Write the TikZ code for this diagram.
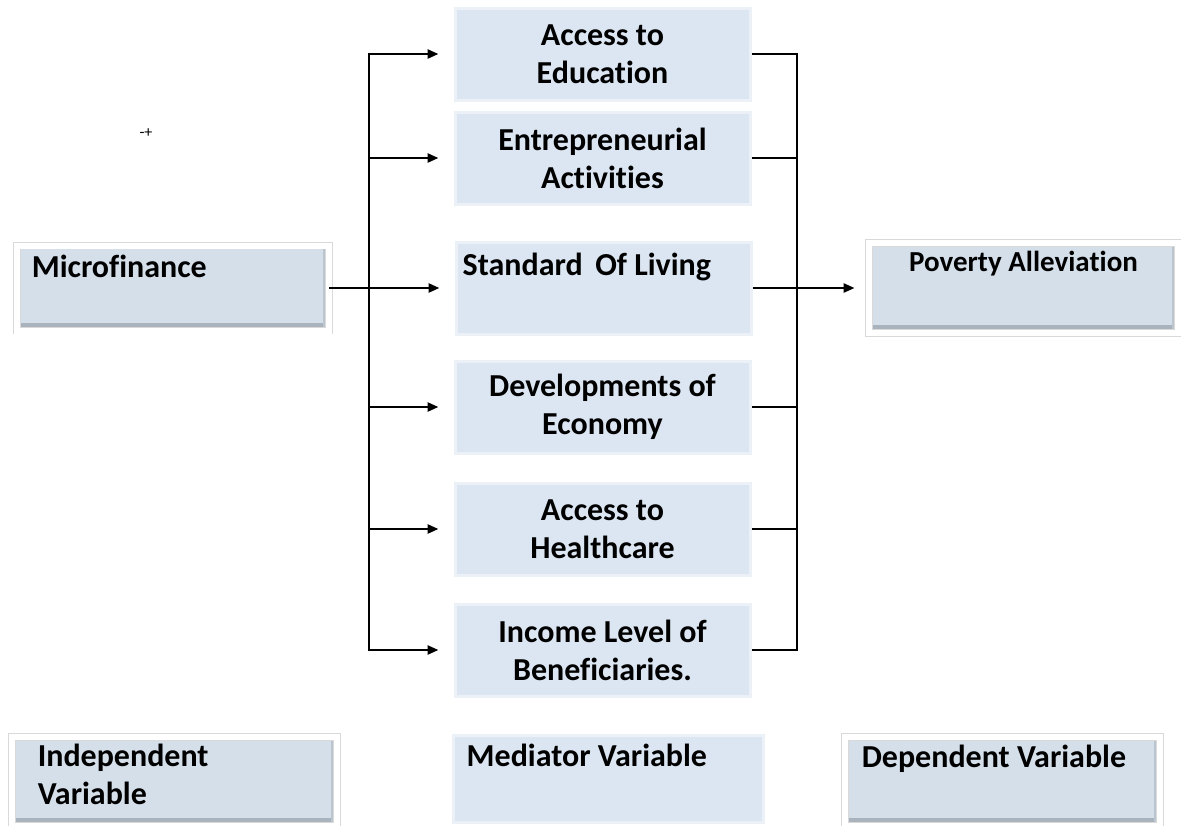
\documentclass[tikz,border=0pt]{standalone}
\usepackage{fontspec}
\setmainfont{Carlito}[Ligatures={NoCommon}]
\usetikzlibrary{arrows.meta,positioning}
\definecolor{medblue}{HTML}{DCE6F2}
\definecolor{sideblue}{HTML}{D5DFEA}
\definecolor{bevelgray}{HTML}{A9B3BD}

\tikzset{
  medbox/.style={rectangle, fill=medblue, draw=white!45!medblue, line width=3pt,
    minimum width=295pt, minimum height=92pt, inner sep=0pt, align=center,
    font=\bfseries\fontsize{32}{38}\selectfont},
  sidebox/.style={rectangle, fill=sideblue, draw=gray!30, line width=0.8pt,
    double=white, double distance=6pt, inner sep=0pt,
    path picture={\fill[bevelgray] ([yshift=8pt]path picture bounding box.south west)
      rectangle (path picture bounding box.south east);
      \fill[bevelgray!60!sideblue] ([xshift=-6pt]path picture bounding box.north east)
      rectangle (path picture bounding box.south east);}},
  boxtext/.style={anchor=base west, inner sep=0pt, align=left,
    font=\bfseries\fontsize{32}{38}\selectfont},
  link/.style={line width=2.5pt},
  arr/.style={link, -{Triangle[length=11pt,width=9pt]}},
}

\begin{document}
\begin{tikzpicture}[x=1pt,y=-1pt]
  \useasboundingbox (0,0) rectangle (1181,825);

  \node[font=\fontsize{16}{18}\selectfont] (plus) at (146,133) {-+};

  % independent variable
  \node[sidebox, minimum width=312pt, minimum height=85pt] (micro) at (173,288) {};
  \node[boxtext] (microtxt) at ([shift={(15,32)}]micro.north west) {Microfinance};

  % mediators
  \node[medbox] (edu) at (602.5,54) {Access to\\Education};
  \node[medbox] (ent) at (602.5,158) {Entrepreneurial\\Activities};
  \node[medbox] (sol) at (603.5,288) {};
  \node[boxtext] (soltxt) at ([shift={(8,35)}]sol.north west) {Standard\, Of Living};
  \node[medbox] (dev) at (602.5,407) {Developments of\\Economy};
  \node[medbox] (hea) at (602.5,529) {Access to\\Healthcare};
  \node[medbox] (inc) at (602.5,650) {Income Level of\\Beneficiaries.};

  % dependent variable
  \node[sidebox, minimum width=309pt, minimum height=90pt] (pov) at (1023.5,288) {};
  \node[boxtext, anchor=base, font=\bfseries\fontsize{29}{35}\selectfont] (povtxt)
    at ([yshift=-29pt]pov.north) {Poverty Alleviation};

  % legend
  \node[sidebox, minimum width=325pt, minimum height=89pt] (indep) at (174.5,781.5) {};
  \node[boxtext] (indeptxt) at ([shift={(26,68)}]indep.north west) {Independent\\Variable};
  \node[medbox, minimum width=310pt, minimum height=87pt] (med) at (608,778.5) {};
  \node[boxtext] (medtxt) at ([shift={(15,33)}]med.north west) {Mediator Variable};
  \node[sidebox, minimum width=315pt, minimum height=89pt] (dep) at (1002.5,781.5) {};
  \node[boxtext] (deptxt) at ([shift={(17,31)}]dep.north west) {Dependent Variable};

  % connectors
  \coordinate (lx) at (369,0);
  \coordinate (rx) at (797,0);
  \draw[arr, shorten >=15pt] (micro.east) -- (sol.west);
  \draw[link, line cap=rect] (lx |- edu.west) -- (lx |- inc.west);
  \foreach \b in {edu,ent,dev,hea,inc}
    \draw[arr, shorten >=15pt] (lx |- \b.west) -- (\b.west);
  \foreach \b in {edu,ent,dev,hea,inc}
    \draw[link] (\b.east) -- (rx |- \b.east);
  \draw[link, line cap=rect] (rx |- edu.east) -- (rx |- inc.east);
  \draw[arr, shorten >=14pt] (sol.east) -- (pov.west);
\end{tikzpicture}
\end{document}
